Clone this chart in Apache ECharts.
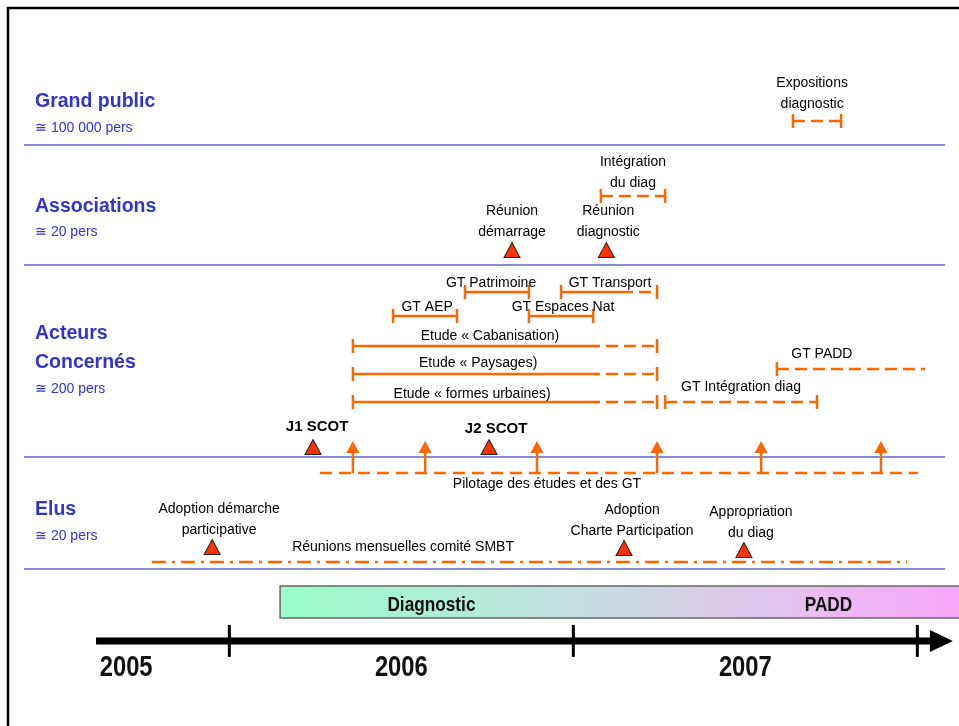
<!DOCTYPE html>
<html>
<head>
<meta charset="utf-8">
<script src="https://cdn.jsdelivr.net/npm/echarts@6/dist/echarts.min.js"></script>
<style>
  html, body { margin: 0; padding: 0; background: #fff; }
  #chart { width: 959px; height: 726px; }
</style>
</head>
<body>
<div id="chart"></div>
<script>
// time is counted in months from January 2005
var yearTicks = [12, 24, 36];
var yearNames = ["2005", "2006", "2007"];
var yearLabelAt = [8.4, 18, 30];
var timelineFrom = 7.35;
var timelineTo = 37.24;

var phaseNames = ["Diagnostic", "PADD"];
var phaseLabelAt = [19.05, 32.9];
var phaseStart = 13.77;

// working groups and studies (solid part until spanFirmEnd, dashed afterwards)
var spanNames = [
  "Expositions\ndiagnostic",
  "Intégration\ndu diag",
  "GT Patrimoine",
  "GT Transport",
  "GT AEP",
  "GT Espaces Nat",
  "Etude « Cabanisation)",
  "Etude « Paysages)",
  "Etude « formes urbaines)",
  "GT Intégration diag",
  "GT PADD"
];
var spanStart = [31.66, 24.96, 20.22, 23.57, 17.71, 22.45, 16.31, 16.31, 16.31, 27.2, 31.1];
var spanEnd = [33.34, 27.2, 22.45, 26.92, 19.94, 24.69, 26.92, 26.92, 26.92, 32.5, 36.27];
var spanFirmEnd = [31.66, 24.96, 22.45, 26.08, 19.94, 24.69, 24.93, 24.93, 24.93, 27.2, 31.1];
var spanOpenEnd = [false, false, false, false, false, false, false, false, false, false, true];

// milestones (triangles)
var eventNames = [
  "Réunion\ndémarrage",
  "Réunion\ndiagnostic",
  "J1 SCOT",
  "J2 SCOT",
  "Adoption démarche\nparticipative",
  "Adoption\nCharte Participation",
  "Appropriation\ndu diag"
];
var eventAt = [21.86, 25.15, 14.92, 21.06, 11.4, 25.77, 29.95];

// steering meetings of the studies, and monthly committee meetings
var pilotageName = "Pilotage des études et des GT";
var pilotageAt = [16.31, 18.83, 22.73, 26.92, 30.55, 34.73];
var pilotageRange = [15.16, 36.02];
var comiteName = "Réunions mensuelles comité SMBT";
var comiteRange = [9.3, 35.64];

// lanes
var laneNames = ["Grand public", "Associations", "Acteurs\nConcernés", "Elus"];
var laneSizes = ["≅ 100 000 pers", "≅ 20 pers", "≅ 200 pers", "≅ 20 pers"];

// ---- layout (rows are pixel rows of the inverted y axis) ----
var spanRow = [121, 196, 292, 292, 316, 316, 346, 374, 402, 402, 369];
var spanLabelAt = [32.33, 26.08, 21.13, 25.28, 18.9, 23.64, 21.09, 20.68, 20.47, 29.85, 32.67];
var spanLabelRow = [94, 173, 283, 283, 307, 307, 336, 363, 394, 387, 354];
var eventRow = [250, 250, 447, 447, 547, 548, 550];
var eventLabelRow = [222, 222, 427, 429, 520, 521, 523];
var eventLabelDx = [0, 2, 4, 7, 7, 8, 7];
var eventBold = [false, false, true, true, false, false, false];
var pilotageRow = 473, pilotageLabelRow = 484, pilotageLabelAt = 23.08;
var comiteRow = 562, comiteLabelRow = 547, comiteLabelAt = 18.06;
var laneTitleRow = [102, 207, 334, 510];
var laneSizeRow = [128, 232, 389, 536];
var separators = [145, 265, 457, 569];
var phaseTop = 586, phaseBottom = 618, phaseLabelRow = 605;
var timelineRow = 641, yearRow = 668;

var ORANGE = "#ff6600";
var BLUE = "#3333cc";
var FONT = '"Liberation Sans", Arial, sans-serif';

var chart = echarts.init(document.getElementById("chart"));

function textEl(x, y, text, font, fill, narrow) {
  return {
    type: "text",
    x: x, y: y,
    scaleX: narrow ? 0.82 : 1,
    style: {
      x: 0, y: 0, text: text, font: font, fill: fill || "#000",
      align: "center", verticalAlign: "middle", lineHeight: 21
    }
  };
}

function renderSpan(params, api) {
  var i = params.dataIndex;
  var row = api.value(3);
  var a = api.coord([api.value(0), row]);
  var b = api.coord([api.value(1), row]);
  var f = api.coord([api.value(2), row]);
  var y = a[1];
  var kids = [];
  var firm = f[0] > a[0] + 1;
  if (firm) {
    kids.push({ type: "line", shape: { x1: a[0], y1: y, x2: f[0], y2: y },
      style: { stroke: ORANGE, lineWidth: 2.5 } });
  }
  if (b[0] > f[0] + 1) {
    kids.push({ type: "line", shape: { x1: f[0], y1: y, x2: b[0], y2: y },
      style: { stroke: ORANGE, lineWidth: 2.5, lineDash: [12, 6], lineDashOffset: firm ? 12 : 0 } });
  }
  kids.push({ type: "line", shape: { x1: a[0], y1: y - 7, x2: a[0], y2: y + 7 },
    style: { stroke: ORANGE, lineWidth: 2.5 } });
  if (!spanOpenEnd[i]) {
    kids.push({ type: "line", shape: { x1: b[0], y1: y - 7, x2: b[0], y2: y + 7 },
      style: { stroke: ORANGE, lineWidth: 2.5 } });
  }
  var t = api.coord([spanLabelAt[i], spanLabelRow[i]]);
  kids.push(textEl(t[0], t[1], spanNames[i], "14px " + FONT));
  return { type: "group", children: kids };
}

function renderEventLabel(params, api) {
  var i = params.dataIndex;
  var p = api.coord([eventAt[i], eventLabelRow[i]]);
  var font = eventBold[i] ? "bold 15px " + FONT : "14px " + FONT;
  return textEl(p[0] + eventLabelDx[i], p[1], eventNames[i], font);
}

function renderArrow(params, api) {
  var tip = api.coord([api.value(0), api.value(1)]);
  var base = api.coord([api.value(0), pilotageRow]);
  return {
    type: "group",
    children: [
      { type: "line", shape: { x1: tip[0], y1: tip[1] + 10, x2: base[0], y2: base[1] },
        style: { stroke: ORANGE, lineWidth: 2.5 } },
      { type: "polygon", shape: { points: [[tip[0], tip[1]], [tip[0] - 6.5, tip[1] + 12], [tip[0] + 6.5, tip[1] + 12]] },
        style: { fill: ORANGE } }
    ]
  };
}

function renderLines(params, api) {
  var a = api.coord([pilotageRange[0], pilotageRow]);
  var b = api.coord([pilotageRange[1], pilotageRow]);
  var c = api.coord([comiteRange[0], comiteRow]);
  var d = api.coord([comiteRange[1], comiteRow]);
  var pl = api.coord([pilotageLabelAt, pilotageLabelRow]);
  var cl = api.coord([comiteLabelAt, comiteLabelRow]);
  return {
    type: "group",
    children: [
      { type: "line", shape: { x1: a[0], y1: a[1], x2: b[0], y2: b[1] },
        style: { stroke: ORANGE, lineWidth: 2.5, lineDash: [12, 7] } },
      { type: "line", shape: { x1: c[0], y1: c[1], x2: d[0], y2: d[1] },
        style: { stroke: ORANGE, lineWidth: 2.5, lineDash: [14, 6, 3, 6] } },
      textEl(pl[0], pl[1], pilotageName, "14px " + FONT),
      textEl(cl[0], cl[1], comiteName, "14px " + FONT)
    ]
  };
}

function renderPhases(params, api) {
  var a = api.coord([phaseStart, phaseTop]);
  var b = api.coord([40, phaseBottom]);
  var kids = [{
    type: "rect",
    shape: { x: a[0], y: a[1], width: b[0] - a[0], height: b[1] - a[1] },
    style: {
      fill: new echarts.graphic.LinearGradient(0, 0, 1, 0, [
        { offset: 0, color: "#99ffcc" },
        { offset: 0.42, color: "#c6dde0" },
        { offset: 0.7, color: "#e8bff0" },
        { offset: 1, color: "#ff99ff" }
      ]),
      stroke: "#666", lineWidth: 1.5
    }
  }];
  for (var i = 0; i < phaseNames.length; i++) {
    var p = api.coord([phaseLabelAt[i], phaseLabelRow]);
    kids.push(textEl(p[0], p[1], phaseNames[i], "bold 21px " + FONT, "#111", true));
  }
  return { type: "group", children: kids };
}

function renderTimeline(params, api) {
  var a = api.coord([timelineFrom, timelineRow]);
  var tip = api.coord([timelineTo, timelineRow]);
  var y = a[1];
  var kids = [
    { type: "line", shape: { x1: a[0], y1: y, x2: tip[0] - 20, y2: y },
      style: { stroke: "#000", lineWidth: 7 } },
    { type: "polygon", shape: { points: [[tip[0], y], [tip[0] - 23, y - 11], [tip[0] - 23, y + 11]] },
      style: { fill: "#000" } }
  ];
  yearTicks.forEach(function (m) {
    var p = api.coord([m, timelineRow]);
    kids.push({ type: "line", shape: { x1: p[0], y1: y - 16, x2: p[0], y2: y + 16 },
      style: { stroke: "#000", lineWidth: 3 } });
  });
  for (var i = 0; i < yearNames.length; i++) {
    var q = api.coord([yearLabelAt[i], yearRow]);
    kids.push(textEl(q[0], q[1], yearNames[i], "bold 29px " + FONT, "#111", true));
  }
  return { type: "group", children: kids };
}

var graphics = [
  { type: "rect", shape: { x: 8, y: 8, width: 1000, height: 800 },
    style: { fill: null, stroke: "#000", lineWidth: 2.5 } }
];
separators.forEach(function (y) {
  graphics.push({ type: "line", shape: { x1: 24, y1: y, x2: 945, y2: y },
    style: { stroke: "#8888dd", lineWidth: 2 } });
});
laneNames.forEach(function (name, i) {
  var twoLines = name.indexOf("\n") >= 0;
  graphics.push({ type: "text", x: 35, y: laneTitleRow[i] + (twoLines ? 14.5 : 0),
    style: { text: name, font: "bold 19.5px " + FONT, fill: BLUE, align: "left", verticalAlign: "middle", lineHeight: 29 } });
  graphics.push({ type: "text", x: 35, y: laneSizeRow[i],
    style: { text: laneSizes[i], font: "14px " + FONT, fill: BLUE, align: "left", verticalAlign: "middle" } });
});

var option = {
  animation: false,
  grid: { left: 0, right: 0, top: 0, bottom: 0 },
  xAxis: { type: "value", min: 4, max: 37.453, show: false },
  yAxis: { type: "value", min: 0, max: 726, inverse: true, show: false },
  graphic: graphics,
  series: [
    {
      type: "custom",
      renderItem: renderPhases,
      data: [[phaseStart, phaseTop]]
    },
    {
      type: "custom",
      renderItem: renderTimeline,
      data: [[timelineFrom, timelineRow]]
    },
    {
      type: "custom",
      renderItem: renderLines,
      data: [[pilotageRange[0], pilotageRow]]
    },
    {
      type: "custom",
      renderItem: renderSpan,
      data: spanStart.map(function (s, i) {
        return [s, spanEnd[i], spanFirmEnd[i], spanRow[i]];
      })
    },
    {
      type: "custom",
      renderItem: renderArrow,
      data: pilotageAt.map(function (m) { return [m, 441]; })
    },
    {
      type: "custom",
      renderItem: renderEventLabel,
      data: eventAt.map(function (m, i) { return [m, eventLabelRow[i]]; })
    },
    {
      type: "scatter",
      symbol: "triangle",
      symbolSize: [16, 15],
      itemStyle: { color: "#ff3300", borderColor: "#222", borderWidth: 1, opacity: 1 },
      data: eventAt.map(function (m, i) { return [m, eventRow[i]]; })
    }
  ]
};
chart.setOption(option);
</script>
</body>
</html>
